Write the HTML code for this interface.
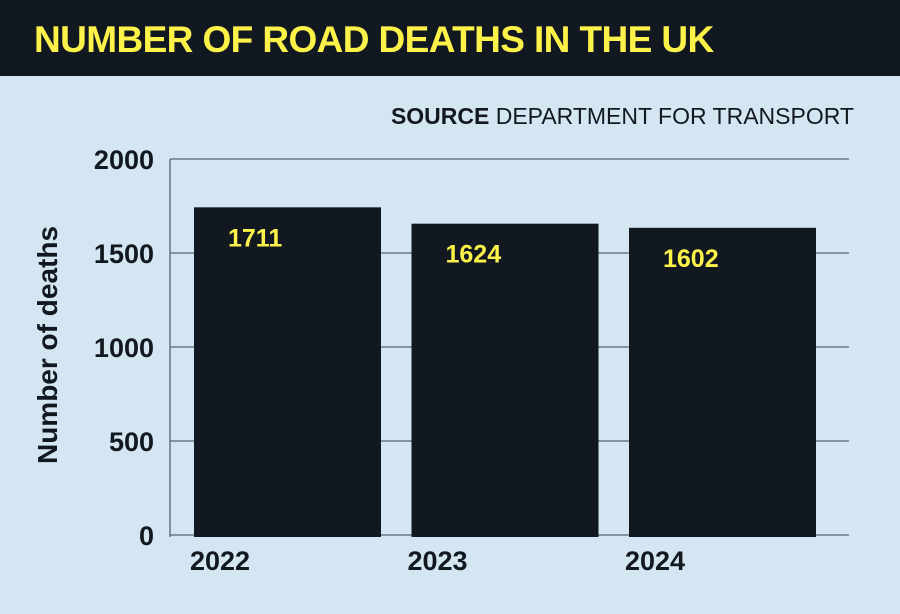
<!DOCTYPE html>
<html><head><meta charset="utf-8"><style>
body{margin:0;width:900px;height:614px;background:#d3e6f2;font-family:"Liberation Sans",sans-serif;overflow:hidden;position:relative}
#hdr{position:absolute;left:0;top:0;width:900px;height:76px;background:#121820}
#title{position:absolute;left:34px;top:19px;font-size:37px;font-weight:bold;color:#fff34a;letter-spacing:-0.6px;white-space:nowrap}
#src{position:absolute;right:46px;top:103px;font-size:23px;color:#121820;white-space:nowrap}
svg{position:absolute;left:0;top:0}
</style></head><body>
<div id="hdr"><div id="title">NUMBER OF ROAD DEATHS IN THE UK</div></div>
<div id="src"><b>SOURCE</b> DEPARTMENT FOR TRANSPORT</div>
<svg id="chart" width="900" height="614"></svg>
<script>
const categories=["2022","2023","2024"];
const values=[1711,1624,1602];
const ticks=[0,500,1000,1500,2000];
const NS="http://www.w3.org/2000/svg";
const svg=document.getElementById("chart");
const x0=170,x1=849,yBase=535,yTop=159,maxV=2000;
const y=v=>yBase-(v/maxV)*(yBase-yTop);
const step=217.5;
const xb=i=>194+step*i;
const bw=187;
function mk(t,a){const e=document.createElementNS(NS,t);for(const k in a)e.setAttribute(k,a[k]);svg.appendChild(e);return e;}
ticks.forEach(t=>{
 const l=mk("line",{x1:x0,x2:x1,y1:y(t),y2:y(t),stroke:"#5a6470","stroke-width":1.3});
 
 
 const tx=mk("text",{x:154,y:y(t)+10,"text-anchor":"end","font-size":27,"font-weight":"bold",fill:"#121820"});
 tx.textContent=t;
 
 
});
const ax=mk("line",{x1:x0,x2:x0,y1:yTop,y2:yBase+2,stroke:"#5a6470","stroke-width":1.3});


categories.forEach((c,i)=>{
 const r=mk("rect",{x:xb(i),y:y(values[i])-6,width:bw,height:yBase-y(values[i])+8,fill:"#121820"});
 
 
 const v=mk("text",{x:xb(i)+34,y:y(values[i])+33,"font-size":25,"font-weight":"bold",fill:"#fff34a"});
 v.textContent=values[i];
 
 
 const cl=mk("text",{x:xb(i)-4,y:570,"font-size":27,"font-weight":"bold",fill:"#121820"});
 cl.textContent=c;
 
 
});
const yt=mk("text",{x:0,y:0,transform:"translate(57,345) rotate(-90)","text-anchor":"middle","font-size":28,"font-weight":"bold",fill:"#121820"});
yt.textContent="Number of deaths";


</script>
</body></html>
